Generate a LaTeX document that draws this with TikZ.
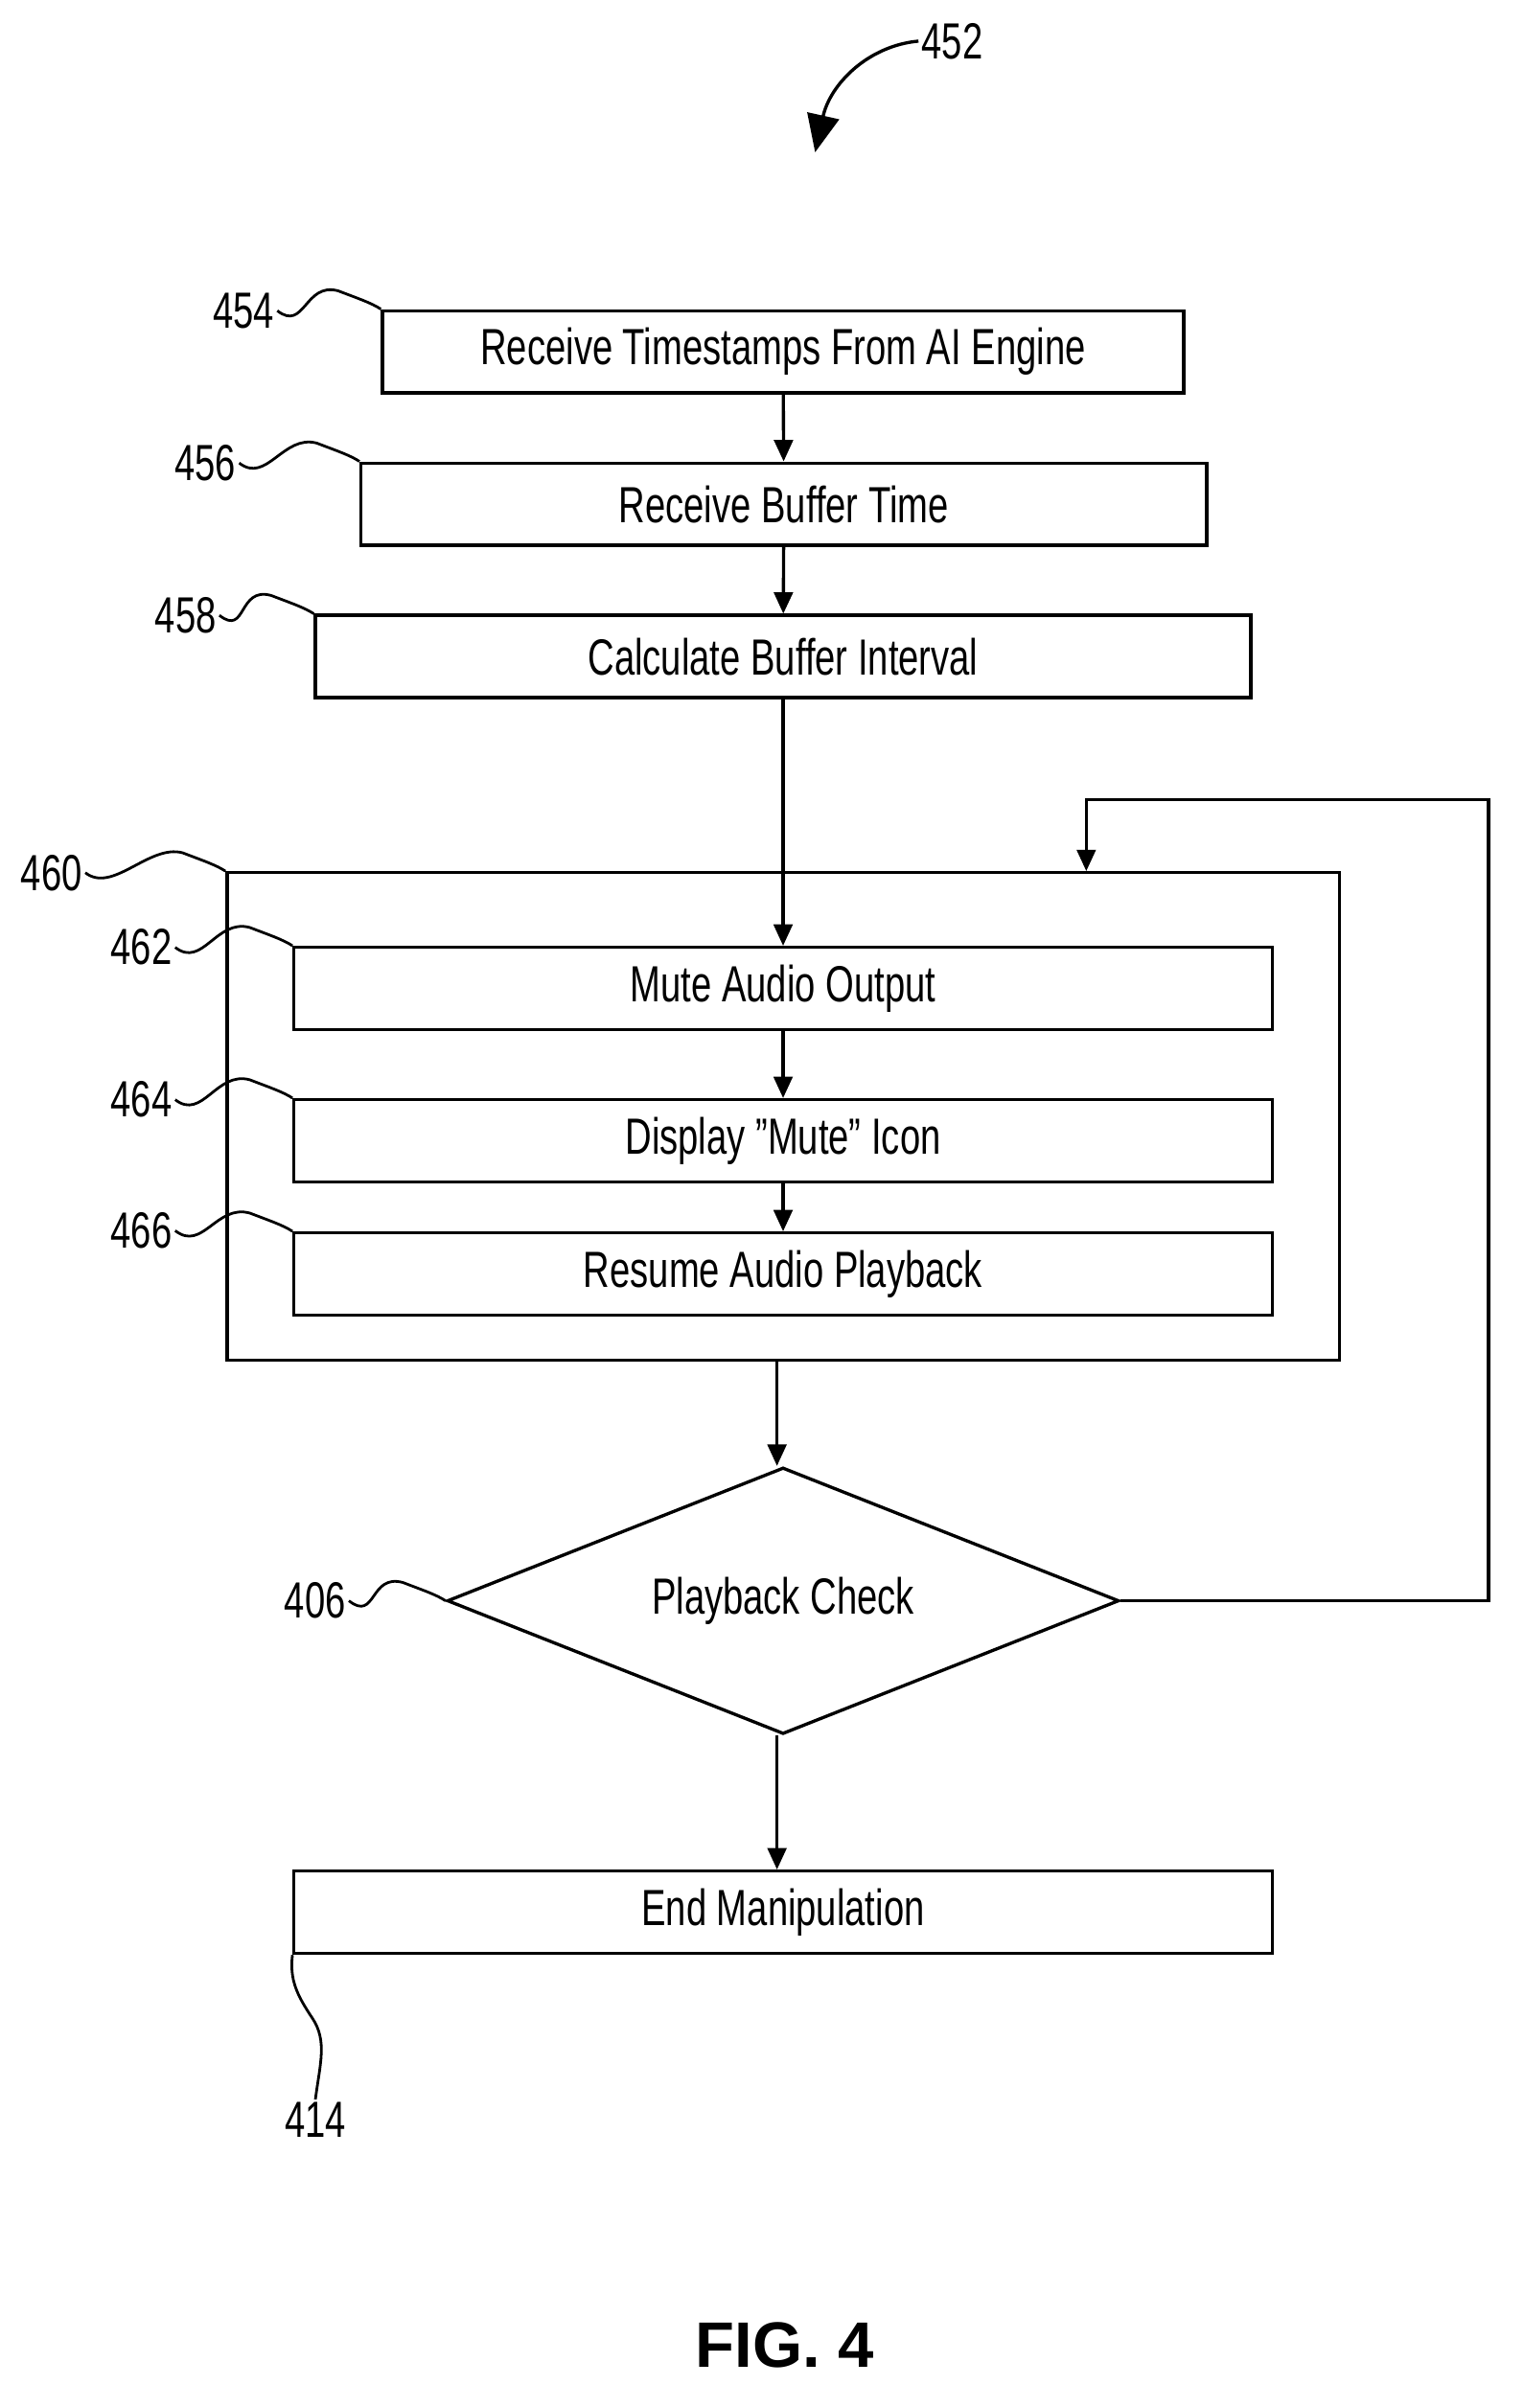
\documentclass[tikz,border=0pt]{standalone}
\usepackage{fontspec}
\setmainfont[FakeStretch=0.72]{Liberation Sans}
\newfontfamily\figfont{Liberation Sans}
\usetikzlibrary{shapes.geometric,arrows.meta,calc}
\begin{document}
\begin{tikzpicture}[x=0.02cm,y=-0.02cm,
  box/.style={draw,line width=1.2pt,minimum height=0.02cm*54,inner sep=0pt,font=\fontsize{19}{22}\selectfont},
  lbl/.style={font=\fontsize{19}{22}\selectfont,inner sep=1pt},
  arr/.style={line width=1.2pt,-{Triangle[length=8pt,width=7pt]}},
  sq/.style={line width=1pt}]
\useasboundingbox (0,0) rectangle (1000,1581);
\node[box,minimum width=0.02cm*526] (b454) at (514,231) {Receive Timestamps From AI Engine};
\node[box,minimum width=0.02cm*555] (b456) at (514.5,331) {Receive Buffer Time};
\node[box,minimum width=0.02cm*614] (b458) at (514,431) {Calculate Buffer Interval};
\node[draw,line width=1.2pt,minimum width=0.02cm*730,minimum height=0.02cm*320,inner sep=0pt] (b460) at (514,733) {};
\node[box,minimum width=0.02cm*642] (b462) at (514,649) {Mute Audio Output};
\node[box,minimum width=0.02cm*642] (b464) at (514,749) {Display "Mute" Icon};
\node[box,minimum width=0.02cm*642] (b466) at (514,836.5) {Resume Audio Playback};
\node[draw,line width=1.2pt,diamond,aspect=2.52,minimum width=0.02cm*441,minimum height=0.02cm*175,inner sep=0pt,font=\fontsize{19}{22}\selectfont] (d406) at (514,1051) {Playback Check};
\node[box,minimum width=0.02cm*642] (b414) at (514,1255.5) {End Manipulation};
\draw[arr] (b454) -- (b456);
\draw[arr] (b456) -- (b458);
\draw[arr] (b458) -- (b462);
\draw[arr] (b462) -- (b464);
\draw[arr] (b464) -- (b466);
\draw[arr] (b460.south -| 510,0) -- (d406.north -| 510,0);
\draw[arr] (d406.south -| 510,0) -- (b414.north -| 510,0);
\coordinate (fb) at (713,525);
\draw[arr] (d406.east) -| (977,525) -- (fb) -- (b460.north -| fb);
% labels
\node[lbl] (l452) at (625,27) {452};
\coordinate (a452) at (535,100);
\draw[line width=1.2pt,-{Triangle[length=14pt,width=12pt]}] (l452.west) .. controls (570,30) and (545,55) .. (a452);
\node[lbl,anchor=east] (l454) at (182,204) {454};
\node[lbl,anchor=east] (l456) at (157,304) {456};
\node[lbl,anchor=east] (l458) at (144,404) {458};
\node[lbl,anchor=east] (l460) at (56,573) {460};
\node[lbl,anchor=east] (l462) at (115,622) {462};
\node[lbl,anchor=east] (l464) at (115,722) {464};
\node[lbl,anchor=east] (l466) at (115,808) {466};
\node[lbl,anchor=east] (l406) at (229,1051) {406};
\node[lbl] (l414) at (207,1392) {414};
\foreach \l/\c in {l454/b454.north west,l456/b456.north west,l458/b458.north west,l460/b460.north west,l462/b462.north west,l464/b464.north west,l466/b466.north west,l406/d406.west}{
  \draw[sq] (\l.east) .. controls ($(\l.east)+(18,14)$) and ($(\c)+(-50,-18)$) .. ($(\c)+(-28,-12)$) .. controls ($(\c)+(-15,-7)$) and ($(\c)+(-6,-4)$) .. (\c);
}
\draw[sq] (b414.south west) .. controls (190,1300) and (195,1310) .. (205,1325) .. controls (215,1340) and (210,1355) .. (l414.north);
\node[font=\figfont\bfseries\fontsize{24}{28}\selectfont] (fig) at (515,1540) {FIG. 4};
\end{tikzpicture}
\end{document}
